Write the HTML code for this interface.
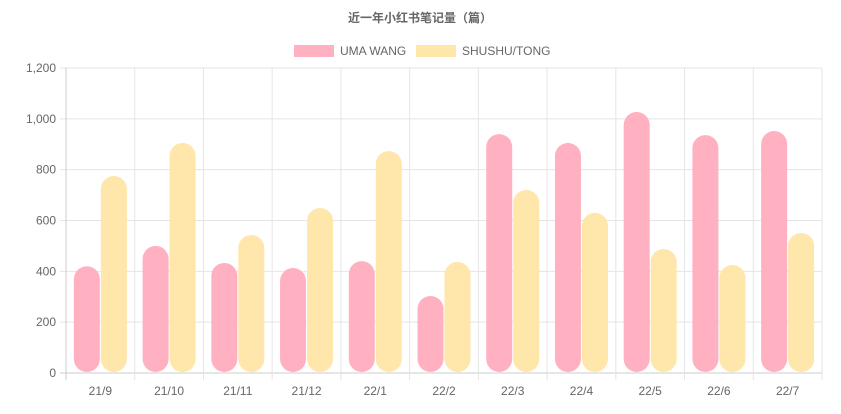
<!DOCTYPE html>
<html><head><meta charset="utf-8"><style>
body{margin:0;background:#fff;width:841px;height:414px;overflow:hidden}
svg{display:block;font-family:"Liberation Sans","Noto Sans CJK SC",sans-serif}
</style></head><body>
<svg id="chart" width="841" height="414">
<text x="420" y="22" text-anchor="middle" font-size="12" font-weight="bold" fill="#666">近一年小红书笔记量（篇）</text>
<g>
<g><rect x="294" y="45" width="40" height="12" fill="#ffb1c1"/><text x="340" y="55" font-size="12" fill="#666">UMA WANG</text></g>
<g><rect x="416" y="45" width="40" height="12" fill="#ffe6aa"/><text x="462" y="55" font-size="12" fill="#666">SHUSHU/TONG</text></g>
</g>
<g id="grid"></g><g id="bars"></g><g id="labels"></g>
</svg>
<script>
const categories=["21/9","21/10","21/11","21/12","22/1","22/2","22/3","22/4","22/5","22/6","22/7"];
const umaWang=[420,500,433,413,440,303,940,905,1027,936,952];
const shushuTong=[775,905,543,649,873,437,720,630,488,425,551];
const yTicks=[0,200,400,600,800,1000,1200];
const yTickLabels=["0","200","400","600","800","1,000","1,200"];
const NS="http://www.w3.org/2000/svg";
const L=66,R=822,T=68,B=373,yMax=1200;
const y=v=>B-(v/yMax)*(B-T);
const cw=(R-L)/categories.length;
const xc=i=>L+cw*(i+0.5);
function mk(tag,attrs,parent){const e=document.createElementNS(NS,tag);for(const k in attrs)e.setAttribute(k,attrs[k]);parent.appendChild(e);return e;}
const grid=document.getElementById('grid'),bars=document.getElementById('bars'),labels=document.getElementById('labels');
yTicks.forEach((t,i)=>{
 const ln=mk('line',{x1:L-6,x2:R,y1:y(t),y2:y(t),stroke:i==0?'#ccc':'#e5e5e5'},grid);
 
 
 const tx=mk('text',{x:L-10,y:y(t)+4,'text-anchor':'end','font-size':12,fill:'#666'},labels);
 tx.textContent=yTickLabels[i];
 
 
});
for(let i=0;i<=categories.length;i++){
 const ln=mk('line',{x1:L+cw*i,x2:L+cw*i,y1:T,y2:B+7,stroke:i==0?'#ccc':'#e5e5e5'},grid);
 
 
}
const bw=26;
function bar(i,v,off,col,name){
 const x=xc(i)+off-bw/2,top=y(v),bot=B-1;
 const r=Math.min(13,(bot-top)/2);
 const p=mk('rect',{x:x,y:top,width:bw,height:bot-top,rx:r,ry:r,fill:col},bars);
 
 
}
categories.forEach((c,i)=>{
 bar(i,umaWang[i],-13.5,'#ffb1c1','bar-uma-wang-'+c);
 bar(i,shushuTong[i],13.5,'#ffe6aa','bar-shushu-tong-'+c);
 const tx=mk('text',{x:xc(i),y:B+22,'text-anchor':'middle','font-size':12,fill:'#666'},labels);
 tx.textContent=c;
 
 
});
</script>
</body></html>
